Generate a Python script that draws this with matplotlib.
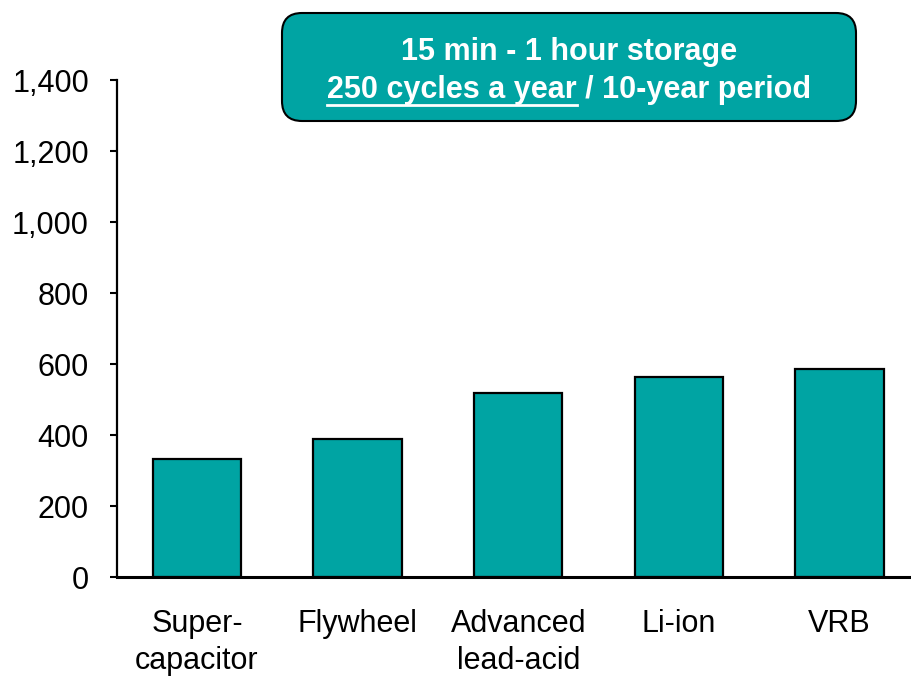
import matplotlib.pyplot as plt
from matplotlib.patches import FancyBboxPatch
from matplotlib.lines import Line2D
from matplotlib.ticker import FuncFormatter

plt.rcParams['font.family'] = ['Liberation Sans', 'DejaVu Sans']

categories = ['Super-\ncapacitor', 'Flywheel', 'Advanced\nlead-acid', 'Li-ion', 'VRB']
values = [333, 390, 519, 563, 586]
yticks = [0, 200, 400, 600, 800, 1000, 1200, 1400]
box_line1 = '15 min - 1 hour storage'
box_under = '250 cycles a year'
box_rest = ' / 10-year period'

TEAL = '#00A4A3'

fig = plt.figure(figsize=(9.12, 6.79), dpi=100)
ax = fig.add_axes([0.128, 0.150, 0.8805, 0.732])

x = range(len(categories))
ax.bar(x, values, width=0.55, color=TEAL, edgecolor='black', linewidth=1.6)

ax.set_xlim(-0.5, len(categories) - 0.5)
ax.set_ylim(0, 1400)
ax.set_yticks(yticks)
ax.yaxis.set_major_formatter(FuncFormatter(lambda v, p: f'{int(v):,}'))
ax.set_xticks(list(x))
ax.set_xticklabels(categories)
ax.tick_params(axis='y', direction='out', length=5, width=1.5, pad=15, labelsize=22)
ax.tick_params(axis='x', length=0, pad=23, labelsize=22)
for lbl in ax.get_xticklabels():
    lbl.set_linespacing(1.3)

for s in ['top', 'right']:
    ax.spines[s].set_visible(False)
ax.spines['left'].set_linewidth(1.6)
ax.spines['bottom'].set_linewidth(2.2)

# rounded header box (in inches so corners stay round)
box = FancyBboxPatch((2.82, 5.58), 5.74, 1.08,
                     boxstyle='round,pad=0,rounding_size=0.2',
                     transform=fig.dpi_scale_trans, facecolor=TEAL,
                     edgecolor='black', linewidth=1.5)
fig.patches.append(box)

cx = 5.69
fig.text(cx, 6.27, box_line1, transform=fig.dpi_scale_trans, ha='center',
         va='center', color='white', fontsize=22, fontweight='bold')
t2 = fig.text(cx, 5.89, box_under + box_rest, transform=fig.dpi_scale_trans,
              ha='center', va='center', color='white', fontsize=22,
              fontweight='bold')

# underline the first part of the second line
fig.canvas.draw()
renderer = fig.canvas.get_renderer()
full_bb = t2.get_window_extent(renderer)
tmp = fig.text(0, 0, box_under, fontsize=22, fontweight='bold')
part_w = tmp.get_window_extent(renderer).width
tmp.remove()
y_line = full_bb.y0 + 0.5
fig.add_artist(Line2D([full_bb.x0, full_bb.x0 + part_w], [y_line, y_line],
                      transform=None, color='white', linewidth=2))

fig.savefig('out.png', dpi=100)
